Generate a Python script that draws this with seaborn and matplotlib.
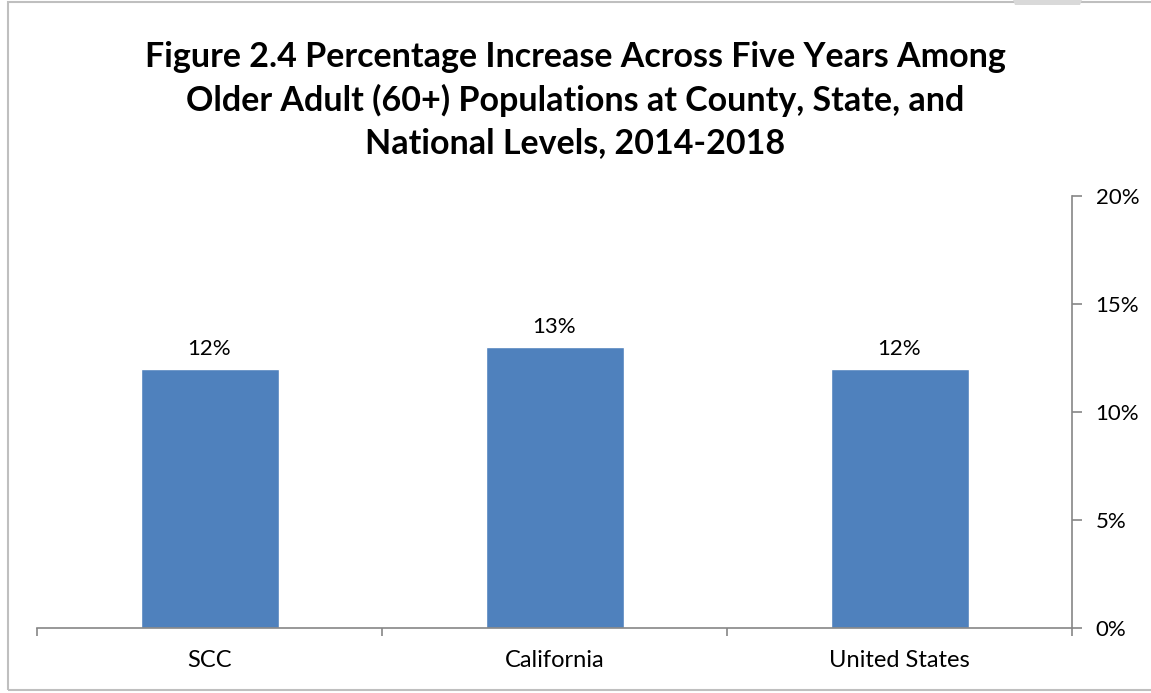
import numpy as np
import pandas as pd
import seaborn as sns
import matplotlib.pyplot as plt
from matplotlib.patches import Rectangle, Polygon
from matplotlib.ticker import FixedLocator, PercentFormatter

# =========================
# Data
# =========================
regions = ["SCC", "California", "United States"]
pct_increase = [12, 13, 12]
y_ticks = [0, 5, 10, 15, 20]

title = ("Figure 2.4 Percentage Increase Across Five Years Among\n"
         "Older Adult (60+) Populations at County, State, and\n"
         "National Levels, 2014-2018")

df = pd.DataFrame({"region": regions, "pct": pct_increase})

# =========================
# Plot
# =========================
sns.set_style("white")
plt.rcParams["font.family"] = ["Lato", "DejaVu Sans"]
plt.rcParams["text.color"] = "black"
plt.rcParams["xtick.labelcolor"] = "black"
plt.rcParams["ytick.labelcolor"] = "black"

fig = plt.figure(figsize=(11.51, 6.93), dpi=100)
ax = fig.add_axes([37 / 1151, 1 - 628 / 693, (1072 - 37) / 1151, (628 - 196) / 693])

sns.barplot(data=df, x="region", y="pct", color="#4F81BD", width=0.4,
            saturation=1, ax=ax)

for i, v in enumerate(pct_increase):
    ax.annotate(f"{v}%", (i, v), xytext=(0, 7), textcoords="offset points",
                ha="center", va="bottom", fontsize=16, color="black")

ax.set_xlim(-0.5, len(regions) - 0.5)
ax.set_ylim(0, 20)
ax.yaxis.set_major_locator(FixedLocator(y_ticks))
ax.yaxis.set_major_formatter(PercentFormatter(decimals=0))
ax.yaxis.tick_right()
ax.set_xlabel("")
ax.set_ylabel("")

# spines
gray = "#868686"
for s in ["top", "left"]:
    ax.spines[s].set_visible(False)
for s in ["bottom", "right"]:
    ax.spines[s].set_color(gray)
    ax.spines[s].set_linewidth(1.2)

ax.tick_params(axis="y", direction="out", length=7, width=1.2, color=gray,
               labelsize=16, pad=10, right=True, left=False, labelcolor="black")
ax.tick_params(axis="x", which="major", length=0, labelsize=17, pad=16,
               labelcolor="black")
ax.xaxis.set_minor_locator(FixedLocator(np.arange(-0.5, len(regions), 1.0)))
ax.tick_params(axis="x", which="minor", direction="out", length=6, width=1.2,
               color=gray, bottom=True)

fig.suptitle(title, fontsize=24.5, fontweight="bold", y=1 - 100 / 693,
             va="center", linespacing=1.4, color="black")

# outer frame + folded corner
fig.patches.append(Rectangle((8 / 1151, 3 / 693), 1.1, 688 / 693,
                             transform=fig.transFigure, fill=False,
                             edgecolor="#BFBFBF", linewidth=1.5))
fig.patches.append(Polygon([(1013 / 1151, 1.0), (1082 / 1151, 1.0),
                            (1080 / 1151, 1 - 5 / 693), (1015 / 1151, 1 - 5 / 693)],
                           closed=True, transform=fig.transFigure,
                           facecolor="#D9D9D9", edgecolor="none"))

plt.savefig("out.png", dpi=100)
